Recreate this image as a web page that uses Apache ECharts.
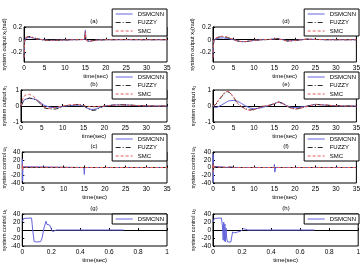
<!DOCTYPE html>
<html>
<head>
<meta charset="utf-8">
<script src="https://cdn.jsdelivr.net/npm/echarts@6/dist/echarts.min.js"></script>
<style>
  html, body { margin: 0; padding: 0; background: #fff; }
  #chart { width: 363px; height: 265px; }
</style>
</head>
<body>
<div id="chart"></div>
<script>
// panel (a): system output x1 (rad)
const tA = [0, 0.1, 0.3, 0.6, 1, 1.5, 2, 3, 4, 5, 6, 7, 8, 10, 12, 14, 14.8, 15, 15.1, 15.4, 16, 17, 18, 20, 22, 25, 28, 31, 35];
const aDsmcnn = [-0.28, -0.05, 0.02, 0.03, 0.035, 0.035, 0.03, 0.015, 0.005, -0.005, -0.01, -0.01, -0.008, -0.005, 0, 0.002, 0.003, 0.15, 0.02, -0.02, -0.025, -0.015, -0.005, 0, 0, 0, 0, 0, 0];
const aFuzzy = [-0.28, -0.04, 0.03, 0.045, 0.05, 0.05, 0.04, 0.02, 0.005, -0.008, -0.012, -0.012, -0.01, -0.005, 0, 0.002, 0.003, 0.12, 0.02, -0.015, -0.02, -0.012, -0.005, 0, 0, 0.003, 0, 0, 0];
const aSmc = [-0.28, -0.06, 0.02, 0.04, 0.045, 0.045, 0.035, 0.015, 0.005, -0.005, -0.01, -0.01, -0.008, -0.004, 0, 0.002, 0.003, 0.13, 0.02, -0.02, -0.022, -0.012, -0.005, 0, 0, 0.002, 0, 0, 0];

// panel (d): system output x2 (rad)
const tD = [0, 0.1, 0.3, 0.7, 1.5, 2.5, 3.5, 5, 6, 7, 8, 9, 10, 12, 14, 15.5, 17, 18, 19, 21, 23, 25, 28, 31, 35];
const dDsmcnn = [-0.28, -0.08, 0.0, 0.015, 0.025, 0.03, 0.02, 0, -0.02, -0.03, -0.03, -0.02, -0.01, 0, 0.005, 0.02, 0, -0.015, -0.015, -0.005, 0.008, 0.004, 0, 0, 0];
const dFuzzy = [-0.28, -0.06, 0.01, 0.03, 0.045, 0.05, 0.035, 0.005, -0.02, -0.03, -0.03, -0.02, -0.01, 0, 0.005, 0.02, 0, -0.02, -0.02, -0.005, 0.01, 0.005, 0, 0, 0];
const dSmc = [-0.28, -0.07, 0.01, 0.03, 0.05, 0.055, 0.04, 0.005, -0.02, -0.03, -0.028, -0.02, -0.01, 0, 0.005, 0.018, 0, -0.018, -0.018, -0.005, 0.01, 0.005, 0, 0, 0];

// panel (b): system output x1
const tB = [0, 0.5, 1, 2, 3, 4, 5, 5.5, 6, 7, 8, 9, 10, 11, 12, 13, 14, 15, 16, 17, 18, 19, 20, 22, 24, 26, 28, 30, 32, 35];
const bDsmcnn = [0, 0.3, 0.42, 0.48, 0.45, 0.35, 0.15, 0.05, 0, -0.08, -0.1, -0.08, -0.03, 0, 0.03, 0.05, 0.05, 0, -0.15, -0.22, -0.18, -0.08, 0, 0.06, 0.07, 0.05, 0.02, 0.01, 0, 0];
const bFuzzy = [0, 0.25, 0.4, 0.5, 0.45, 0.3, 0.05, -0.1, -0.15, -0.18, -0.2, -0.15, -0.05, 0.02, 0.05, 0.08, 0.1, 0.02, -0.15, -0.28, -0.25, -0.1, 0, 0.05, 0.08, 0.06, 0.03, 0.01, 0, 0];
const bSmc = [0, 0.5, 0.68, 0.73, 0.6, 0.35, 0.05, -0.05, -0.1, -0.15, -0.12, -0.05, 0, 0.05, 0.08, 0.1, 0.08, 0.03, -0.02, -0.05, -0.04, -0.02, 0, 0.04, 0.06, 0.05, 0.03, 0.01, 0, 0];

// panel (e): system output x2
const tE = [0, 0.5, 1, 2, 3, 3.5, 4, 5, 6, 7, 8, 9, 10, 11, 12, 13, 14, 15, 16, 17, 18, 19, 20, 21, 22, 24, 25, 27, 29, 32, 35];
const eDsmcnn = [0, -0.1, -0.08, 0.05, 0.2, 0.28, 0.33, 0.35, 0.3, 0.15, 0, -0.12, -0.18, -0.15, -0.1, -0.02, 0.05, 0.15, 0.25, 0.18, 0.02, -0.08, -0.1, -0.08, -0.05, 0.05, 0.1, 0.06, 0.02, 0, 0];
const eFuzzy = [0, 0.05, 0.2, 0.55, 0.85, 0.9, 0.85, 0.55, 0.15, -0.05, -0.18, -0.25, -0.22, -0.12, -0.02, 0.02, 0.06, 0.15, 0.25, 0.15, 0, -0.12, -0.18, -0.15, -0.08, 0.05, 0.1, 0.07, 0.03, 0, 0];
const eSmc = [0, 0.08, 0.25, 0.6, 0.88, 0.93, 0.88, 0.58, 0.18, -0.05, -0.2, -0.27, -0.24, -0.14, -0.03, 0.02, 0.05, 0.15, 0.24, 0.15, 0, -0.13, -0.2, -0.17, -0.1, 0.05, 0.1, 0.07, 0.03, 0, 0];

// panel (c): system control u1
const tC = [0, 0.03, 0.08, 0.15, 0.4, 14.9, 15, 15.1, 15.3, 35];
const cDsmcnn = [0, 22, -35, 2, 0, 0, -18, 0, 0, 0];
const cFuzzy = [0, 5, -5, 1, 0, 0, -2, 0, 0, 0];
const cSmc = [0, 8, -8, 1, 0, 0, -3, 0, 0, 0];

// panel (f): system control u2
const tF = [0, 0.03, 0.08, 0.15, 0.4, 3.5, 4.2, 5, 14.9, 15, 15.08, 15.3, 35];
const fDsmcnn = [0, 35, -38, 3, 0, 0, 1, 0, 0, 8, -12, 0, 0];
const fFuzzy = [0, 8, -8, 1, 0, 0, 1.5, 0, 0, 1, -1, 0, 0];
const fSmc = [0, 10, -10, 1, 0, 0.5, 2.5, 0, 0, 2, -2, 0, 0];

// panel (g): DSMCNN u1, first second
const tG = [0, 0.01, 0.02, 0.064, 0.072, 0.082, 0.1, 0.127, 0.136, 0.15, 0.164, 0.17, 0.176, 0.182, 0.19, 0.2, 0.21, 0.22, 0.234, 0.3, 0.5, 0.7];
const gDsmcnn = [21, 29, 30, 30, 0, -29, -30, -29, -21, 5, 22, 14, 18, 9, 12, 3, -4, -2, 0, 0, 0, 0];

// panel (h): DSMCNN u2, first second
const tH = [0, 0.01, 0.02, 0.058, 0.065, 0.07, 0.074, 0.078, 0.082, 0.086, 0.09, 0.094, 0.1, 0.11, 0.123, 0.13, 0.135, 0.14, 0.145, 0.15, 0.16, 0.17, 0.18, 0.19, 0.2, 0.21, 0.216, 0.225, 0.24, 0.3, 0.5, 0.7];
const hDsmcnn = [20, 29, 30, 30, 10, -25, 20, -28, 15, -30, 5, -20, -30, -31, -30, -15, -5, -10, -3, -7, -2, -5, 0, -3, 2, 3, 5, 2, 0, 0, 0, 0];

const names = ['DSMCNN', 'FUZZY', 'SMC'];
const font = 'Liberation Sans, Arial, sans-serif';

const styles = {
  DSMCNN: { color: '#6464dc', type: 'solid' },
  FUZZY: { color: '#2a2a2a', type: [5, 2, 1, 2] },
  SMC: { color: '#e05a5a', type: [3, 2] }
};

// layout of the 8 panels
const colLeft = [21, 213];
const rows = [
  { top: 27, height: 35 },
  { top: 90, height: 32 },
  { top: 152, height: 31 },
  { top: 214, height: 32 }
];

const panels = [
  { tag: '(a)', col: 0, row: 0, t: tA, ys: [aDsmcnn, aFuzzy, aSmc], ylabel: 'system output x₁(rad)', ymin: -0.35, ymax: 0.2, yticks: [-0.2, 0, 0.2], xmax: 35, xint: 5 },
  { tag: '(d)', col: 1, row: 0, t: tD, ys: [dDsmcnn, dFuzzy, dSmc], ylabel: 'system output x₂(rad)', ymin: -0.35, ymax: 0.2, yticks: [-0.2, 0, 0.2], xmax: 35, xint: 5 },
  { tag: '(b)', col: 0, row: 1, t: tB, ys: [bDsmcnn, bFuzzy, bSmc], ylabel: 'system output x₁', ymin: -1, ymax: 1, yticks: [-1, 0, 1], xmax: 35, xint: 5 },
  { tag: '(e)', col: 1, row: 1, t: tE, ys: [eDsmcnn, eFuzzy, eSmc], ylabel: 'system output x₂', ymin: -1, ymax: 1, yticks: [-1, 0, 1], xmax: 35, xint: 5 },
  { tag: '(c)', col: 0, row: 2, t: tC, ys: [cDsmcnn, cFuzzy, cSmc], ylabel: 'system control u₁', ymin: -40, ymax: 40, yticks: [-40, -20, 0, 20, 40], xmax: 35, xint: 5 },
  { tag: '(f)', col: 1, row: 2, t: tF, ys: [fDsmcnn, fFuzzy, fSmc], ylabel: 'system control u₂', ymin: -40, ymax: 40, yticks: [-40, -20, 0, 20, 40], xmax: 35, xint: 5 },
  { tag: '(g)', col: 0, row: 3, t: tG, ys: [gDsmcnn], ylabel: 'system control u₁', ymin: -40, ymax: 40, yticks: [-40, -20, 0, 20, 40], xmax: 1, xint: 0.2 },
  { tag: '(h)', col: 1, row: 3, t: tH, ys: [hDsmcnn], ylabel: 'system control u₂', ymin: -40, ymax: 40, yticks: [-40, -20, 0, 20, 40], xmax: 1, xint: 0.2 }
];

const W = 146;
const grid = [], xAxis = [], yAxis = [], series = [], legend = [], graphic = [];

panels.forEach(function (p, i) {
  const left = colLeft[p.col];
  const r = rows[p.row];
  grid.push({ left: left, top: r.top, width: W, height: r.height, show: true, borderColor: '#000', borderWidth: 1, backgroundColor: 'transparent' });
  xAxis.push({
    type: 'value', gridIndex: i, min: 0, max: p.xmax, interval: p.xint,
    name: 'time(sec)', nameLocation: 'middle', nameGap: 10,
    nameTextStyle: { fontSize: 6, fontFamily: font, color: '#000' },
    axisLine: { lineStyle: { color: '#000', width: 1 } },
    axisTick: { inside: true, length: 2, lineStyle: { color: '#000' } },
    axisLabel: { fontSize: 6.5, fontFamily: font, color: '#000', margin: 3 },
    splitLine: { show: false }
  });
  yAxis.push({
    type: 'value', gridIndex: i, min: p.ymin, max: p.ymax,
    name: p.ylabel, nameLocation: 'middle', nameRotate: 90, nameGap: p.col === 0 ? 14 : 17,
    nameTextStyle: { fontSize: 5.5, fontFamily: font, color: '#000' },
    axisLine: { lineStyle: { color: '#000', width: 1 } },
    axisTick: { inside: true, length: 2, customValues: p.yticks, lineStyle: { color: '#000' } },
    axisLabel: { fontSize: 6.5, fontFamily: font, color: '#000', margin: 2, customValues: p.yticks },
    splitLine: { show: false }
  });
  const used = names.slice(0, p.ys.length);
  used.forEach(function (n, k) {
    series.push({
      name: n, type: 'line', xAxisIndex: i, yAxisIndex: i,
      symbol: 'none', silent: true, animation: false,
      lineStyle: { color: styles[n].color, type: styles[n].type, width: 1 },
      itemStyle: { color: styles[n].color },
      data: p.t.map(function (t, j) { return [t, p.ys[k][j]]; })
    });
  });
  legend.push({
    data: used, orient: 'vertical',
    right: 363 - (left + W), top: used.length > 1 ? r.top - 18 : r.top,
    borderColor: '#000', borderWidth: 1, borderRadius: 0, backgroundColor: '#fff',
    padding: [2, 3, 2, 3], itemGap: 2.5, itemWidth: 17, itemHeight: 6,
    itemStyle: { opacity: 0, borderWidth: 0 },
    lineStyle: { width: 1 },
    textStyle: { fontSize: 6, fontFamily: font, color: '#000' },
    selectedMode: false
  });
  graphic.push({
    type: 'text', x: left + W / 2, y: r.top - 6,
    style: { text: p.tag, fontSize: 6, fontFamily: font, fill: '#000', textAlign: 'center', textVerticalAlign: 'middle' }
  });
});

const chart = echarts.init(document.getElementById('chart'), null, { renderer: 'canvas' });
chart.setOption({
  backgroundColor: '#fff',
  animation: false,
  grid: grid,
  xAxis: xAxis,
  yAxis: yAxis,
  legend: legend,
  graphic: graphic,
  series: series
});
</script>
</body>
</html>
